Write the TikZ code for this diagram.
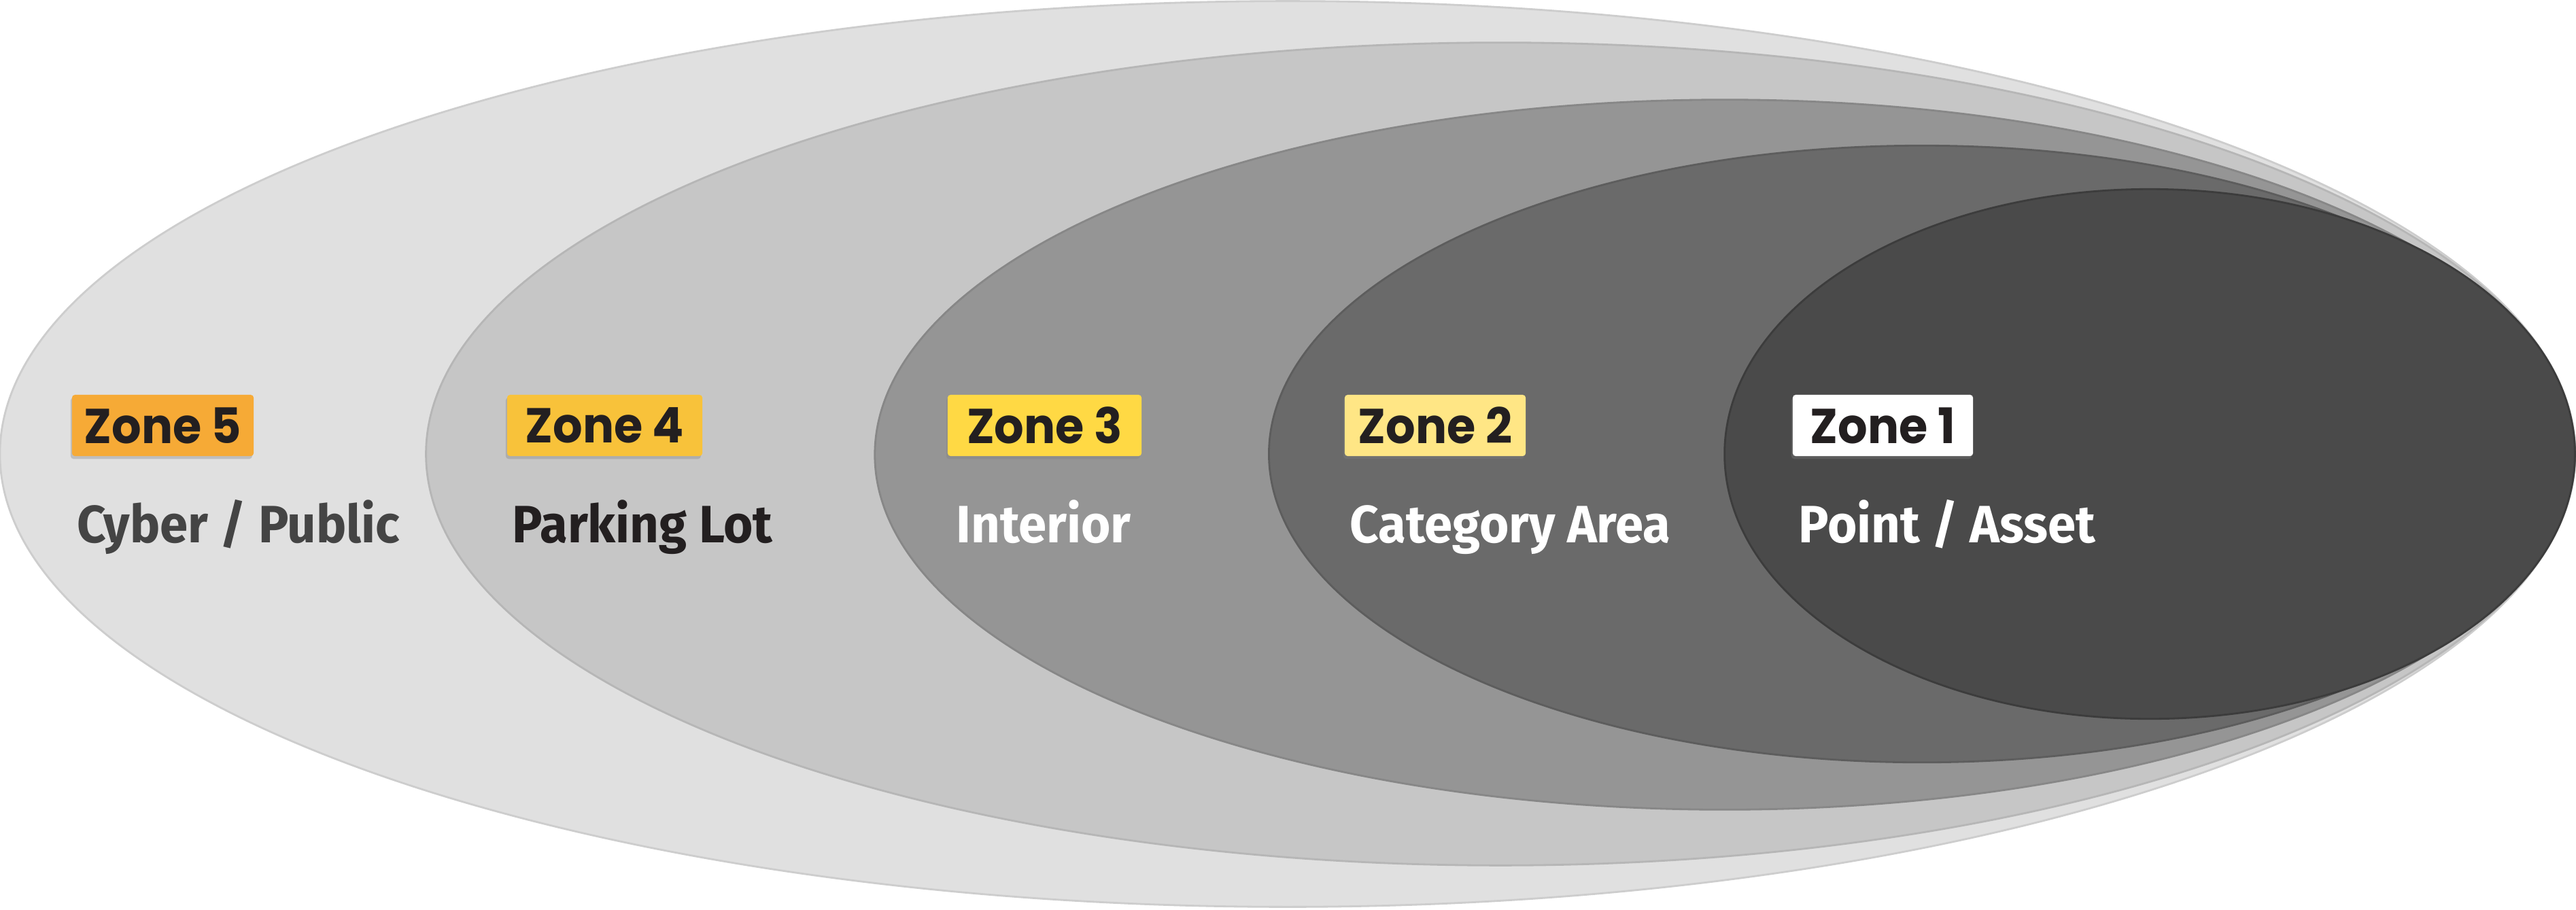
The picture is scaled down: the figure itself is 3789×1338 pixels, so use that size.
\documentclass[tikz,border=0pt]{standalone}
\usepackage{fontspec}
\usetikzlibrary{shapes.geometric,shadows}
\newfontfamily\badgefont{Poppins}[UprightFont=* SemiBold,BoldFont=* Bold,FakeStretch=0.95]
\newfontfamily\labelfont{Fira Sans}[UprightFont=* SemiBold,BoldFont=* Bold,FakeStretch=0.96]
\definecolor{e5}{HTML}{E0E0E0}\definecolor{e5d}{HTML}{CDCDCD}
\definecolor{e4}{HTML}{C6C6C6}\definecolor{e4d}{HTML}{B6B6B6}
\definecolor{e3}{HTML}{959595}\definecolor{e3d}{HTML}{878787}
\definecolor{e2}{HTML}{6A6A6A}\definecolor{e2d}{HTML}{5D5D5D}
\definecolor{e1}{HTML}{4A4A4A}\definecolor{e1d}{HTML}{3C3C3C}
\definecolor{b5}{HTML}{F6AA36}
\definecolor{b4}{HTML}{F8C23A}
\definecolor{b3}{HTML}{FFD944}
\definecolor{b2}{HTML}{FFE685}
\definecolor{b1}{HTML}{FFFFFF}
\definecolor{ink}{HTML}{231F20}
\definecolor{grayink}{HTML}{444444}
\tikzset{
  zone/.style={ellipse,inner sep=0pt,outer sep=0pt,line width=0.8pt},
  badge/.style={rectangle,rounded corners=1.2pt,inner sep=0pt,minimum height=0.9cm,
     text=ink,font=\badgefont\fontsize{20.5pt}{21pt}\selectfont\bfseries,
     drop shadow={shadow xshift=-0.6pt,shadow yshift=-1.2pt,opacity=0.35}},
  zlabel/.style={anchor=base west,inner sep=0pt,font=\labelfont\fontsize{22pt}{24pt}\selectfont\bfseries}
}
\begin{document}
\begin{tikzpicture}[x=0.01cm,y=-0.01cm]
\useasboundingbox (0,0) rectangle (3789,1338);
% ellipses
\node[zone,fill=e5,draw=e5d,minimum width=37.86cm,minimum height=13.32cm] (z5) at (1894,668) {};
\node[zone,fill=e4,draw=e4d,minimum width=31.59cm,minimum height=12.10cm] (z4) at (2207,668) {};
\node[zone,fill=e3,draw=e3d,minimum width=24.99cm,minimum height=10.44cm] (z3) at (2537,669) {};
\node[zone,fill=e2,draw=e2d,minimum width=19.20cm,minimum height=9.07cm] (z2) at (2827,668) {};
\node[zone,fill=e1,draw=e1d,minimum width=12.50cm,minimum height=7.79cm] (z1) at (3162,668) {};
% badges
\node[badge,fill=b5,minimum width=2.67cm] (tag5) at (239.5,626) {Zone 5};
\node[badge,fill=b4,minimum width=2.87cm] (tag4) at (889.5,626) {Zone 4};
\node[badge,fill=b3,minimum width=2.85cm] (tag3) at (1536.5,626) {Zone 3};
\node[badge,fill=b2,minimum width=2.66cm] (tag2) at (2111,626) {Zone 2};
\node[badge,fill=b1,minimum width=2.65cm] (tag1) at (2769.5,626) {Zone 1};
% labels
\node[zlabel,text=grayink] (l5) at (113,798) {Cyber / Public};
\node[zlabel,text=ink] (l4) at (753,798) {Parking Lot};
\node[zlabel,text=white] (l3) at (1406,798) {Interior};
\node[zlabel,text=white] (l2) at (1985,798) {Category Area};
\node[zlabel,text=white] (l1) at (2645,798) {Point / Asset};
\end{tikzpicture}
\end{document}
